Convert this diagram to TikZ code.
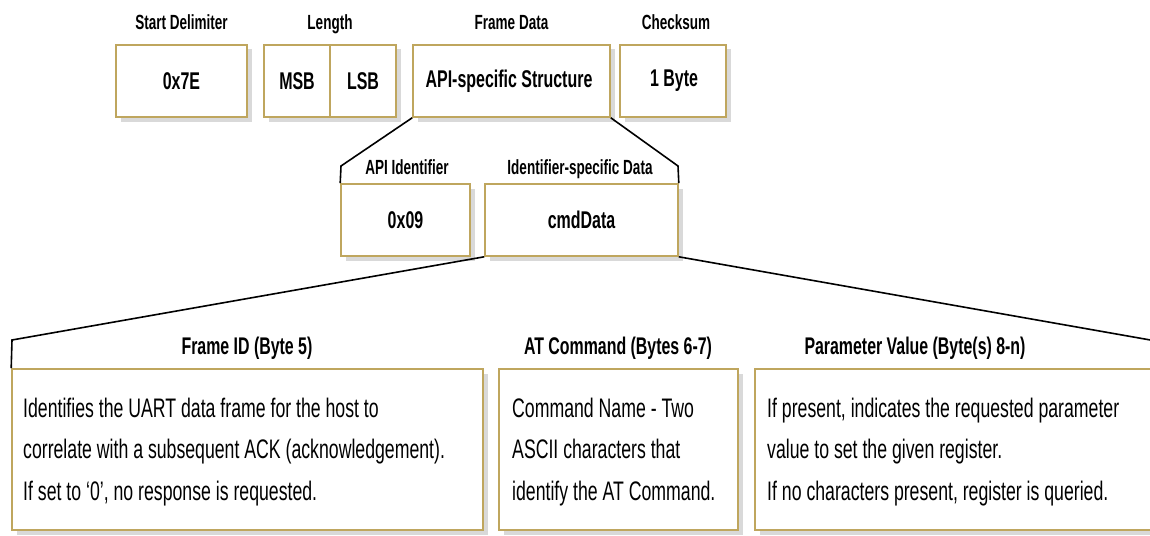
\documentclass[tikz,border=0pt]{standalone}
\usepackage{fontspec}
\setmainfont[FakeStretch=0.66]{Liberation Sans}
\usetikzlibrary{shadows}
\definecolor{boxgold}{RGB}{191,166,94}
\definecolor{shadowgray}{RGB}{217,217,217}
\tikzset{
  field/.style={draw=boxgold, line width=1.6pt, fill=white, inner sep=0pt,
    drop shadow={shadow xshift=4.5pt, shadow yshift=-4.5pt, fill=shadowgray, opacity=1}},
  conn/.style={draw=black, line width=1.6pt, line join=miter},
  toplabel/.style={font=\bfseries\fontsize{20.5}{24}\selectfont, anchor=base, inner sep=0pt},
  fieldtext/.style={font=\bfseries\fontsize{24.2}{28}\selectfont, inner sep=0pt},
  sublabel/.style={font=\bfseries\fontsize{24.1}{28}\selectfont, anchor=base, inner sep=0pt},
  bodytext/.style={font=\fontsize{26.8}{41.5}\selectfont, anchor=base west, align=left, inner sep=0pt}
}
\begin{document}
\begin{tikzpicture}[x=1pt, y=-1pt]
\useasboundingbox (0,0) rectangle (1150,535);
\clip (0,0) rectangle (1150,535);

% frame fields
\node[field, minimum width=131pt, minimum height=72pt] (sd) at (181.5,81) {};
\node[field, minimum width=132pt, minimum height=72pt] (len) at (330,81) {};
\node[field, minimum width=197pt, minimum height=72pt] (fd) at (511.5,81) {};
\node[field, minimum width=106pt, minimum height=72pt] (cs) at (673,81) {};
\draw[draw=boxgold, line width=1.6pt] (len.north) -- (len.south);

\node[toplabel] (sdl) at (181.5,30) {Start Delimiter};
\node[toplabel] (lenl) at (330,30) {Length};
\node[toplabel] (fdl) at (511.5,30) {Frame Data};
\node[toplabel] (csl) at (676,30) {Checksum};

\node[fieldtext] (sdt) at (181.5,81) {0x7E};
\node[fieldtext] (msb) at (297,81) {MSB};
\node[fieldtext] (lsb) at (363,81) {LSB};
\node[fieldtext] (fdt) at (509,81) {API-specific Structure};
\node[fieldtext] (cst) at (674,81) {1 Byte};

% API frame
\node[field, minimum width=129pt, minimum height=72pt] (api) at (405.5,220) {};
\node[field, minimum width=193pt, minimum height=72pt] (isd) at (581.5,220) {};
\node[toplabel] (apil) at (407,174) {API Identifier};
\node[toplabel] (isdl) at (580,174) {Identifier-specific Data};
\node[fieldtext] (apit) at (405.5,220) {0x09};
\node[fieldtext] (isdt) at (581.5,220) {cmdData};

% command data
\node[field, minimum width=471pt, minimum height=161pt] (fid) at (247.5,449.5) {};
\node[field, minimum width=239pt, minimum height=161pt] (atc) at (618.5,449.5) {};
\node[field, minimum width=401pt, minimum height=161pt] (pv) at (955.5,449.5) {};

\node[sublabel] (fidl) at (247,354) {Frame ID (Byte 5)};
\node[sublabel] (atcl) at (618,354) {AT Command (Bytes 6-7)};
\node[sublabel] (pvl) at (915,354) {Parameter Value (Byte(s) 8-n)};

% multi-line texts sit on the baseline of their last line
\node[bodytext] (fidt) at (23,500) {Identifies the UART data frame for the host to\\correlate with a subsequent ACK (acknowledgement).\\If set to `0', no response is requested.};
\node[bodytext] (atct) at (512,500) {Command Name - Two\\ASCII characters that\\identify the AT Command.};
\node[bodytext] (pvt) at (767,500) {If present, indicates the requested parameter\\value to set the given register.\\If no characters present, register is queried.};

% expansion lines
\coordinate (k1) at (341,166);
\coordinate (k2) at (678,166);
\coordinate (k3) at (12,340);
\coordinate (k4) at (1156,341);
\draw[conn] (fd.south west) -- (k1) -- (api.north west);
\draw[conn] (fd.south east) -- (k2) -- (isd.north east);
\draw[conn] (isd.south west) -- (k3) -- (fid.north west);
\draw[conn] (isd.south east) -- (k4) -- (pv.north east);
\end{tikzpicture}
\end{document}
